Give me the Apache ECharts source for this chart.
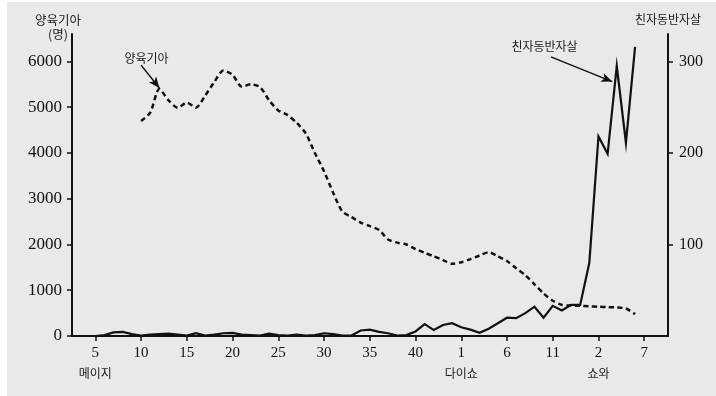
<!DOCTYPE html>
<html>
<head>
<meta charset="utf-8">
<script src="https://cdn.jsdelivr.net/npm/echarts@6/dist/echarts.min.js"></script>
<style>
  html, body { margin: 0; padding: 0; background: #ffffff; }
  #paper { position: absolute; left: 7px; top: 2px; width: 709px; height: 394px; background: #e9e9e9; }
  #chart { position: absolute; left: 0; top: 0; width: 716px; height: 396px; }
</style>
</head>
<body>
<div id="paper"></div>
<div id="chart"></div>
<script>
// X axis: Western years, labelled by era year (Meiji / Taisho / Showa)
const tickYears  = [1872, 1877, 1882, 1887, 1892, 1897, 1902, 1907, 1912, 1917, 1922, 1927, 1932];
const tickLabels = ['5', '10', '15', '20', '25', '30', '35', '40', '1', '6', '11', '2', '7'];
const eraNames   = { 1872: '메이지', 1912: '다이쇼', 1927: '쇼와' };

// 양육기아 (명) — left axis
const foundlingYears = [1877, 1878, 1879, 1880, 1881, 1882, 1883, 1884, 1885, 1886,
                        1887, 1888, 1889, 1890, 1891, 1892, 1893, 1894, 1895, 1896,
                        1897, 1898, 1899, 1900, 1901, 1902, 1903, 1904, 1905, 1906,
                        1907, 1908, 1909, 1910, 1911, 1912, 1913, 1914, 1915, 1916,
                        1917, 1918, 1919, 1920, 1921, 1922, 1923, 1924, 1925, 1926,
                        1927, 1928, 1929, 1930, 1931];
const foundlings = [4700, 4880, 5400, 5150, 4990, 5100, 4990, 5250, 5550, 5800,
                    5710, 5450, 5500, 5440, 5150, 4930, 4830, 4660, 4430, 4000,
                    3600, 3130, 2720, 2600, 2480, 2400, 2320, 2110, 2040, 2000,
                    1900, 1820, 1740, 1660, 1580, 1610, 1680, 1760, 1830, 1740,
                    1640, 1480, 1330, 1130, 930, 770, 680, 665, 660, 650,
                    640, 630, 625, 600, 480];

// 친자동반자살 — right axis
const suicideYears = [1872, 1873, 1874, 1875, 1876, 1877, 1878, 1879, 1880, 1881,
                      1882, 1883, 1884, 1885, 1886, 1887, 1888, 1889, 1890, 1891,
                      1892, 1893, 1894, 1895, 1896, 1897, 1898, 1899, 1900, 1901,
                      1902, 1903, 1904, 1905, 1906, 1907, 1908, 1909, 1910, 1911,
                      1912, 1913, 1914, 1915, 1916, 1917, 1918, 1919, 1920, 1921,
                      1922, 1923, 1924, 1925, 1926, 1927, 1928, 1929, 1930, 1931];
const suicides = [0, 1, 4, 4.5, 2, 0.5, 1.5, 2, 2.5, 1.5,
                  0.5, 3, 0.5, 1.5, 3, 3.5, 1.5, 1, 0.5, 2.5,
                  1, 0.5, 1.5, 0.5, 1, 3, 2, 0.5, 0.5, 6,
                  7, 4.5, 3, 0.5, 1, 5, 13, 6.5, 12, 14,
                  9.5, 7, 3.5, 8, 14, 20, 19.5, 25, 32, 20,
                  33, 28, 34, 34, 80, 218, 199, 295, 211, 316];

const leftTicks  = [0, 1000, 2000, 3000, 4000, 5000, 6000];
const rightTicks = [100, 200, 300];

const ink = '#111111';
const serif = '"Liberation Serif", "DejaVu Serif", serif';
const hangul = '"Noto Sans CJK KR", "Noto Sans", sans-serif';

const zip = (xs, ys) => xs.map((x, i) => [x, ys[i]]);
const plain = v => String(Math.round(v));

const chart = echarts.init(document.getElementById('chart'), null, { renderer: 'canvas' });

const textMark = (coord, text) => ({
  symbol: 'rect',
  symbolSize: 1,
  itemStyle: { color: 'rgba(0,0,0,0)' },
  label: {
    show: true, position: 'inside', formatter: p => p.name,
    fontFamily: hangul, fontSize: 12, color: '#1a1a1a'
  },
  data: [{ name: text, coord: coord }],
  silent: true, animation: false
});

const arrowLine = (from, to) => ({
  symbol: ['none', 'arrow'],
  symbolSize: [7, 11],
  silent: true, animation: false,
  label: { show: false },
  lineStyle: { color: ink, width: 1.5, type: 'solid' },
  data: [[{ coord: from }, { coord: to }]]
});

chart.setOption({
  animation: false,
  backgroundColor: 'transparent',
  grid: { left: 72, right: 48, top: 34, bottom: 60, containLabel: false },
  xAxis: {
    type: 'value',
    min: 1869.45,
    max: 1934.6,
    splitLine: { show: false },
    axisLine: { show: true, onZero: false, lineStyle: { color: ink, width: 2 } },
    axisTick: { show: true, inside: false, length: 5, customValues: tickYears,
                lineStyle: { color: ink, width: 1.5 } },
    axisLabel: {
      customValues: tickYears,
      margin: 9,
      formatter: v => {
        const y = Math.round(v);
        const i = tickYears.indexOf(y);
        if (i < 0) return '';
        const era = eraNames[y];
        return era ? `{n|${tickLabels[i]}}\n{e|${era}}` : `{n|${tickLabels[i]}}`;
      },
      rich: {
        n: { fontFamily: serif, fontSize: 15, lineHeight: 16, color: ink },
        e: { fontFamily: hangul, fontSize: 12, lineHeight: 24, color: '#1a1a1a' }
      }
    }
  },
  yAxis: [
    {
      type: 'value', position: 'left', min: 0, max: 6600,
      name: '양육기아\n(명)',
      nameLocation: 'end',
      nameGap: -7,
      nameTextStyle: { fontFamily: hangul, fontSize: 12.5, lineHeight: 14, color: '#1a1a1a',
                       align: 'center', padding: [0, 28, 0, 0] },
      splitLine: { show: false },
      axisLine: { show: true, lineStyle: { color: ink, width: 2 } },
      axisTick: { show: true, inside: false, length: 5, customValues: leftTicks,
                  lineStyle: { color: ink, width: 1.5 } },
      axisLabel: { customValues: leftTicks, formatter: plain, margin: 10,
                   fontFamily: serif, fontSize: 17, color: ink }
    },
    {
      type: 'value', position: 'right', min: 0, max: 330,
      name: '친자동반자살',
      nameLocation: 'end',
      nameGap: 7,
      nameTextStyle: { fontFamily: hangul, fontSize: 12, lineHeight: 16, color: '#1a1a1a', align: 'center' },
      splitLine: { show: false },
      axisLine: { show: true, lineStyle: { color: ink, width: 2 } },
      axisTick: { show: true, inside: false, length: 5, customValues: rightTicks,
                  lineStyle: { color: ink, width: 1.5 } },
      axisLabel: { customValues: rightTicks, formatter: plain, margin: 11,
                   fontFamily: serif, fontSize: 16, color: ink }
    }
  ],
  series: [
    {
      name: '양육기아',
      type: 'line',
      yAxisIndex: 0,
      data: zip(foundlingYears, foundlings),
      symbol: 'none',
      smooth: 0.25,
      lineStyle: { color: ink, width: 2.5, type: [5, 3.5] },
      z: 3,
      markLine: arrowLine([1877.0, 5920], [1879.0, 5420]),
      markPoint: textMark([1877.6, 6060], '양육기아')
    },
    {
      name: '친자동반자살',
      type: 'line',
      yAxisIndex: 1,
      data: zip(suicideYears, suicides),
      symbol: 'none',
      lineStyle: { color: ink, width: 2.2, join: 'miter' },
      z: 4,
      markLine: arrowLine([1921.8, 305], [1928.5, 278]),
      markPoint: textMark([1921.1, 316], '친자동반자살')
    }
  ]
});
</script>
</body>
</html>
